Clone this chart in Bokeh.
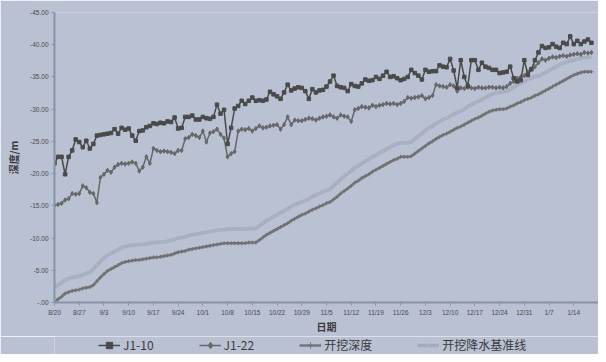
from bokeh.plotting import figure
from bokeh.models import Range1d, FixedTicker, Legend, LegendItem, ColumnDataSource
from bokeh.layouts import column
from bokeh.embed import file_html
from bokeh.resources import INLINE

# ---------------- data (depth in m, negative = below ground) ----------------
tick_labels = ["8/20", "8/27", "9/3", "9/10", "9/17", "9/24", "10/1", "10/8", "10/15",
               "10/22", "10/29", "11/5", "11/12", "11/19", "11/26", "12/3", "12/10",
               "12/17", "12/24", "12/31", "1/7", "1/14"]

j1_10 = [-21.6, -22.6, -22.6, -19.9, -22.6, -23.6, -25.3, -24.9, -24.1, -25.1,
         -23.9, -24.6, -25.9, -26.0, -26.1, -26.2, -26.3, -26.9, -26.2, -27.1,
         -26.8, -27.0, -25.9, -25.1, -26.6, -26.7, -27.2, -27.4, -27.8, -27.7,
         -27.9, -27.8, -28.1, -28.0, -28.7, -27.0, -27.1, -28.8, -28.8, -29.0,
         -28.4, -28.4, -28.8, -28.6, -28.5, -28.8, -30.7, -29.3, -29.9, -24.6,
         -27.1, -30.1, -30.5, -31.3, -30.8, -31.3, -31.8, -31.3, -31.4, -31.3,
         -31.5, -32.7, -32.3, -32.0, -31.6, -32.6, -33.8, -32.9, -33.2, -33.4,
         -33.3, -32.8, -31.6, -33.1, -32.6, -32.9, -33.0, -33.5, -34.3, -35.2,
         -33.6, -33.4, -33.3, -32.8, -33.9, -33.6, -33.5, -34.0, -34.6, -34.4,
         -34.5, -35.0, -34.7, -35.2, -35.8, -35.0, -35.1, -34.8, -34.5, -34.7,
         -35.0, -36.1, -35.6, -35.2, -34.6, -36.1, -35.8, -35.9, -35.9, -36.8,
         -36.6, -36.5, -37.8, -36.0, -33.3, -37.6, -35.0, -33.6, -37.6, -37.6,
         -36.1, -37.2, -36.6, -36.4, -36.1, -36.1, -35.6, -35.7, -35.8, -36.6,
         -34.8, -34.3, -34.5, -37.6, -35.3, -36.2, -37.6, -38.8, -39.8, -39.5,
         -39.6, -40.1, -39.7, -39.5, -40.3, -40.1, -41.3, -40.1, -40.6, -40.1,
         -40.5, -40.8, -40.3]

j1_22 = [-15.1, -15.2, -15.4, -15.9, -16.1, -16.9, -16.8, -16.9, -18.1, -17.8,
         -17.1, -16.9, -15.5, -19.4, -19.9, -20.5, -20.2, -21.0, -21.4, -21.6,
         -21.5, -21.6, -21.8, -21.6, -20.4, -21.0, -22.6, -21.6, -23.9, -23.6,
         -23.4, -23.5, -23.4, -23.3, -23.1, -23.6, -23.6, -25.4, -25.6, -26.1,
         -25.9, -25.6, -26.6, -24.9, -26.3, -26.5, -26.9, -26.1, -25.5, -22.6,
         -23.1, -23.4, -26.6, -26.9, -26.8, -27.0, -26.6, -27.0, -27.4, -27.1,
         -27.2, -27.4, -27.5, -27.6, -26.9, -27.6, -28.8, -27.6, -28.3, -28.2,
         -28.2, -28.4, -28.6, -28.5, -28.3, -28.6, -28.8, -28.9, -29.1, -28.8,
         -28.6, -29.1, -28.9, -28.8, -28.1, -29.9, -30.1, -30.4, -30.3, -30.2,
         -30.6, -30.4, -30.6, -30.7, -30.9, -30.8, -30.9, -30.7, -30.9, -31.2,
         -31.8, -31.7, -31.8, -31.9, -32.1, -31.6, -31.8, -32.1, -33.8, -33.6,
         -33.5, -33.4, -33.8, -33.6, -32.8, -33.3, -33.2, -33.4, -33.3, -33.2,
         -33.4, -33.3, -33.3, -33.4, -33.4, -33.3, -33.4, -33.3, -33.5, -34.0,
         -34.3, -34.8, -35.0, -35.2, -35.8, -36.2, -36.6, -37.2, -37.8, -37.6,
         -37.9, -38.1, -38.0, -38.2, -38.3, -38.2, -38.4, -38.5, -38.6, -38.5,
         -38.8, -38.7, -38.8]

dig_depth = [-0.1, -0.5, -0.9, -1.4, -1.6, -1.8, -1.9, -2.0, -2.2, -2.3,
             -2.4, -2.7, -3.3, -3.9, -4.4, -4.9, -5.2, -5.5, -5.8, -6.1,
             -6.3, -6.4, -6.5, -6.6, -6.6, -6.7, -6.8, -6.9, -7.0, -7.0,
             -7.1, -7.2, -7.3, -7.4, -7.6, -7.8, -7.9, -8.0, -8.2, -8.3,
             -8.4, -8.5, -8.6, -8.7, -8.8, -8.9, -9.0, -9.1, -9.2, -9.2,
             -9.2, -9.2, -9.2, -9.2, -9.2, -9.3, -9.3, -9.3, -9.7, -10.1,
             -10.5, -10.8, -11.1, -11.4, -11.7, -12.0, -12.3, -12.7, -13.0, -13.3,
             -13.6, -13.8, -14.1, -14.4, -14.6, -14.9, -15.1, -15.4, -15.6, -16.0,
             -16.4, -16.9, -17.3, -17.7, -18.1, -18.6, -18.9, -19.3, -19.6, -19.9,
             -20.3, -20.6, -20.9, -21.2, -21.5, -21.8, -22.1, -22.3, -22.6, -22.6,
             -22.6, -22.7, -23.1, -23.5, -23.9, -24.3, -24.7, -25.0, -25.4, -25.7,
             -26.0, -26.2, -26.5, -26.8, -27.1, -27.3, -27.6, -27.9, -28.2, -28.5,
             -28.7, -29.0, -29.3, -29.6, -29.8, -29.9, -30.0, -30.0, -30.1, -30.4,
             -30.6, -30.9, -31.1, -31.4, -31.6, -31.8, -32.1, -32.3, -32.6, -32.9,
             -33.2, -33.5, -33.8, -34.1, -34.4, -34.7, -35.0, -35.3, -35.5, -35.7,
             -35.8, -35.8, -35.8]

dewater_base = [-2.3, -2.7, -3.1, -3.5, -3.7, -3.9, -4.0, -4.1, -4.3, -4.5,
                -4.7, -5.2, -5.8, -6.4, -6.9, -7.3, -7.6, -7.9, -8.2, -8.5,
                -8.7, -8.8, -8.9, -8.9, -9.0, -9.0, -9.1, -9.2, -9.3, -9.3,
                -9.4, -9.4, -9.5, -9.6, -9.8, -10.0, -10.1, -10.2, -10.4, -10.5,
                -10.6, -10.7, -10.8, -10.9, -11.0, -11.1, -11.2, -11.3, -11.3, -11.4,
                -11.4, -11.4, -11.4, -11.4, -11.4, -11.5, -11.5, -11.5, -11.9, -12.3,
                -12.7, -13.0, -13.3, -13.6, -13.9, -14.2, -14.5, -14.9, -15.2, -15.4,
                -15.6, -15.8, -16.1, -16.4, -16.7, -16.9, -17.2, -17.4, -17.6, -18.1,
                -18.6, -19.1, -19.6, -20.0, -20.4, -20.9, -21.2, -21.6, -21.9, -22.2,
                -22.6, -22.9, -23.2, -23.5, -23.8, -24.1, -24.4, -24.6, -24.8, -24.8,
                -24.8, -24.9, -25.4, -25.8, -26.2, -26.7, -27.1, -27.4, -27.8, -28.1,
                -28.4, -28.6, -28.9, -29.2, -29.5, -29.7, -30.0, -30.4, -30.7, -31.0,
                -31.2, -31.5, -31.8, -32.1, -32.4, -32.5, -32.6, -32.7, -32.8, -33.1,
                -33.4, -33.7, -34.0, -34.3, -34.6, -34.8, -35.1, -35.1, -35.4, -35.7,
                -36.0, -36.3, -36.6, -36.9, -37.1, -37.3, -37.5, -37.6, -37.8, -37.9,
                -38.0, -38.0, -38.0]

y_ticks = [0, -5, -10, -15, -20, -25, -30, -35, -40, -45]
series_names = ["J1-10", "J1-22", "开挖深度", "开挖降水基准线"]

# ---------------- styles ----------------
BG = "#b9c1d3"
styles = [
    dict(line_color="#4a4a4a", line_width=1.5, marker="square", size=3.5,
         fill_color="#4a4a4a", mline="#4a4a4a", mwidth=1),
    dict(line_color="#686868", line_width=1.5, marker="diamond", size=4.5,
         fill_color="#686868", mline="#686868", mwidth=1),
    dict(line_color="#767676", line_width=2.5, marker="cross", size=4,
         fill_color=None, mline="#707070", mwidth=1),
    dict(line_color="#a4acbc", line_width=3.5, marker="x", size=4,
         fill_color=None, mline="#b0b8c6", mwidth=1),
]

all_series = [j1_10, j1_22, dig_depth, dewater_base]
sources = [ColumnDataSource(dict(x=list(range(len(v))), y=v)) for v in all_series]

# ---------------- main chart ----------------
p = figure(width=598, height=336, output_backend="svg", toolbar_location=None,
           x_range=Range1d(0, 154), y_range=Range1d(0, -45),
           min_border_left=54, min_border_right=0, min_border_top=12, min_border_bottom=26)
p.background_fill_color = BG
p.border_fill_color = BG
p.outline_line_color = None
p.grid.visible = False

week_ticks = [7 * i for i in range(len(tick_labels))]
p.xaxis.ticker = FixedTicker(ticks=week_ticks)
p.xaxis.major_label_overrides = {t: lab for t, lab in zip(week_ticks, tick_labels)}
p.yaxis.ticker = FixedTicker(ticks=y_ticks)
p.yaxis.major_label_overrides = {t: ("-.00" if t == 0 else f"{t:.2f}") for t in y_ticks}

for ax in (p.xaxis[0], p.yaxis[0]):
    ax.axis_line_color = "#8a93a5"
    ax.axis_line_width = 2
    ax.major_tick_line_color = "#8a93a5"
    ax.major_tick_out = 3
    ax.major_tick_in = 0
    ax.minor_tick_line_color = None
    ax.major_label_text_font = "Liberation Sans"
    ax.major_label_text_font_size = "6.5px"
    ax.major_label_text_color = "#4a4a4a"
    ax.axis_label_text_font = "Noto Sans CJK SC"
    ax.axis_label_text_font_size = "10px"
    ax.axis_label_text_font_style = "bold"
    ax.axis_label_text_color = "#3a3a3a"

p.xaxis.axis_label = "日期"
p.xaxis.axis_label_standoff = 0
p.xaxis.major_label_standoff = 3
p.yaxis.axis_label = "深度/m"
p.yaxis.axis_label_standoff = 6
p.yaxis.major_label_standoff = 3

for src, st in reversed(list(zip(sources, styles))):
    p.line("x", "y", source=src, line_color=st["line_color"], line_width=st["line_width"])
    p.scatter("x", "y", source=src, marker=st["marker"], size=st["size"],
              fill_color=st["fill_color"], line_color=st["mline"], line_width=st["mwidth"])

# ---------------- legend strip (series drawn off-range, only their legend shows) ----------------
lg = figure(width=598, height=18, output_backend="svg", toolbar_location=None,
            x_range=Range1d(-1000, -999), y_range=Range1d(-1000, -999),
            x_axis_type=None, y_axis_type=None,
            min_border_left=54, min_border_right=0, min_border_top=0, min_border_bottom=0)
lg.background_fill_color = BG
lg.border_fill_color = BG
lg.outline_line_color = None
lg.grid.visible = False

items = []
for name, src, st in zip(series_names, sources, styles):
    rl = lg.line("x", "y", source=src, line_color=st["line_color"], line_width=st["line_width"])
    rm = lg.scatter("x", "y", source=src, marker=st["marker"], size=st["size"] + 1,
                    fill_color=st["fill_color"], line_color=st["mline"], line_width=st["mwidth"])
    items.append(LegendItem(label=name, renderers=[rl, rm]))

legend = Legend(items=items, orientation="horizontal", location=(44, 1))
legend.background_fill_alpha = 0
legend.border_line_color = None
legend.label_text_font = "Noto Sans CJK SC"
legend.label_text_font_size = "12px"
legend.label_text_color = "#3a3a3a"
legend.label_height = 16
legend.glyph_width = 22
legend.glyph_height = 16
legend.label_standoff = 3
legend.spacing = 45
legend.padding = 0
legend.margin = 0
lg.add_layout(legend, "center")

layout = column(p, lg, spacing=0)
open("out.html", "w").write(file_html(layout, INLINE))
